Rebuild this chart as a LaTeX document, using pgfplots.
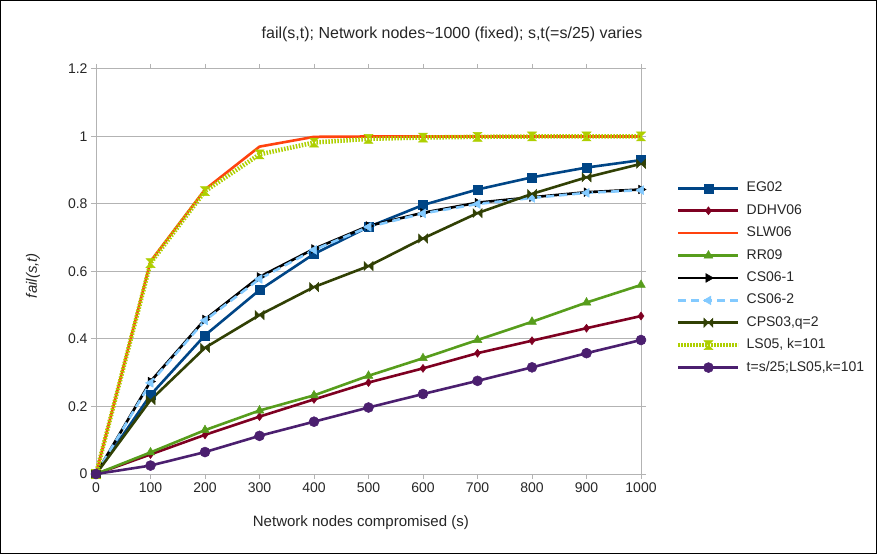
\documentclass[border=0pt]{standalone}
\usepackage{fontspec}
\setmainfont{Liberation Sans}
\usepackage{pgfplots}
\pgfplotsset{compat=1.18}
\definecolor{cEG}{HTML}{004586}
\definecolor{cDD}{HTML}{7E0021}
\definecolor{cSLW}{HTML}{FF420E}
\definecolor{cRR}{HTML}{579D1C}
\definecolor{cCSb}{HTML}{83CAFF}
\definecolor{cCPS}{HTML}{314004}
\definecolor{cLS}{HTML}{AECF00}
\definecolor{cT}{HTML}{4B1F6F}
\definecolor{gridc}{HTML}{B3B3B3}
\pgfdeclareplotmark{hourglass}{%
  \pgfpathmoveto{\pgfqpoint{-\pgfplotmarksize}{\pgfplotmarksize}}%
  \pgfpathlineto{\pgfqpoint{\pgfplotmarksize}{\pgfplotmarksize}}%
  \pgfpathlineto{\pgfqpoint{-\pgfplotmarksize}{-\pgfplotmarksize}}%
  \pgfpathlineto{\pgfqpoint{\pgfplotmarksize}{-\pgfplotmarksize}}%
  \pgfpathclose\pgfusepathqfillstroke}
\pgfdeclareplotmark{bowtie}{%
  \pgfpathmoveto{\pgfqpoint{-\pgfplotmarksize}{\pgfplotmarksize}}%
  \pgfpathlineto{\pgfqpoint{-\pgfplotmarksize}{-\pgfplotmarksize}}%
  \pgfpathlineto{\pgfqpoint{\pgfplotmarksize}{\pgfplotmarksize}}%
  \pgfpathlineto{\pgfqpoint{\pgfplotmarksize}{-\pgfplotmarksize}}%
  \pgfpathclose\pgfusepathqfillstroke}
\begin{document}
\begin{tikzpicture}
\useasboundingbox (0,0) rectangle (877bp,554bp);
\draw[line width=1bp,black] (0.5bp,0.5bp) rectangle (876.5bp,553.5bp);
\node[font=\fontsize{16bp}{18bp}\selectfont,text=black!85] at (452bp,520bp) {fail(s,t); Network nodes\textasciitilde1000 (fixed); s,t(=s/25) varies};
\begin{axis}[
  at={(96bp,80bp)}, anchor=south west,
  scale only axis, width=545bp, height=405bp,
  xmin=0, xmax=1000, ymin=0, ymax=1.2,
  xtick={0,100,...,1000}, ytick={0,0.2,...,1.2},
  clip=false,
  axis line style={gridc, line width=1bp},
  ymajorgrids, grid style={gridc, line width=1bp},
  tick align=outside, major tick length=5bp,
  tick style={gridc, line width=1bp},
  ticklabel style={font=\fontsize{14bp}{16bp}\selectfont, text=black!85},
  /pgf/number format/assume math mode=true,
  xticklabel style={/pgf/number format/1000 sep={}},
  yticklabel style={/pgf/number format/fixed,/pgf/number format/precision=1},
  scaled y ticks=false,
  xlabel={Network nodes compromised (s)},
  ylabel={\textit{fail(s,t)}},
  every axis x label/.style={at={(axis description cs:0.486,-0.121)}, anchor=center, font=\fontsize{15bp}{17bp}\selectfont, text=black!85},
  every axis y label/.style={at={(axis description cs:-0.1156,0.49)}, anchor=center, rotate=90, font=\fontsize{15bp}{17bp}\selectfont, text=black!85},
  legend style={at={(axis description cs:1,0.484)}, xshift=35bp, anchor=west, draw=none, fill=none, inner sep=0pt,
    font=\fontsize{14bp}{16bp}\selectfont, text=black!85,
    nodes={inner sep=0pt, text height=10bp, text depth=3bp, anchor=west},
    row sep=9.4bp,
    /tikz/every odd column/.append style={column sep=6bp}},
  legend cell align=left,
  legend image code/.code={\draw[mark repeat=2,mark phase=2,#1] plot coordinates {(0bp,0bp) (30bp,0bp) (60bp,0bp)};},
  every axis plot/.append style={line width=2.6bp},
]
\addplot[cEG, mark=square*, mark size=4.5bp, mark options={solid, line width=0.5bp}] coordinates {(0,0) (100,0.234) (200,0.411) (300,0.545) (400,0.652) (500,0.732) (600,0.797) (700,0.843) (800,0.879) (900,0.908) (1000,0.930)};
\addlegendentry{EG02}
\addplot[cDD, mark=diamond*, mark size=4bp, mark options={solid, line width=0.5bp}] coordinates {(0,0) (100,0.058) (200,0.116) (300,0.170) (400,0.221) (500,0.271) (600,0.313) (700,0.358) (800,0.395) (900,0.432) (1000,0.468)};
\addlegendentry{DDHV06}
\addplot[cSLW, mark=none] coordinates {(0,0) (100,0.630) (200,0.843) (300,0.970) (400,0.999) (500,1.0) (600,1.0) (700,1.0) (800,1.0) (900,1.0) (1000,1.0)};
\addlegendentry{SLW06}
\addplot[cRR, mark=triangle*, mark size=5bp, mark options={solid, line width=0.5bp}] coordinates {(0,0) (100,0.064) (200,0.130) (300,0.188) (400,0.233) (500,0.291) (600,0.343) (700,0.397) (800,0.451) (900,0.508) (1000,0.560)};
\addlegendentry{RR09}
\addplot[black, mark=triangle*, mark size=5bp, mark options={solid, rotate=-90, line width=0.5bp}] coordinates {(0,0) (100,0.274) (200,0.458) (300,0.584) (400,0.667) (500,0.735) (600,0.774) (700,0.804) (800,0.820) (900,0.835) (1000,0.843)};
\addlegendentry{CS06-1}
\addplot[cCSb, dash pattern=on 8bp off 5bp, mark=triangle*, mark size=5bp, mark options={solid, rotate=90, line width=0.5bp}] coordinates {(0,0) (100,0.270) (200,0.455) (300,0.578) (400,0.664) (500,0.732) (600,0.772) (700,0.800) (800,0.818) (900,0.833) (1000,0.841)};
\addlegendentry{CS06-2}
\addplot[cCPS, mark=bowtie, mark size=4.5bp, mark options={solid, line width=0.5bp}] coordinates {(0,0) (100,0.219) (200,0.374) (300,0.471) (400,0.554) (500,0.616) (600,0.698) (700,0.773) (800,0.830) (900,0.879) (1000,0.919)};
\addlegendentry{CPS03,q=2}
\addplot[cLS, line width=4.5bp, dash pattern=on 1.5bp off 1.5bp, mark=hourglass, mark size=4.5bp, mark options={solid, line width=0.5bp}] coordinates {(0,0) (100,0.625) (200,0.838) (300,0.947) (400,0.982) (500,0.993) (600,0.997) (700,0.999) (800,1.0) (900,1.0) (1000,1.0)};
\addlegendentry{LS05, k=101}
\addplot[cT, mark=*, mark size=5bp, mark options={solid, line width=0.5bp}] coordinates {(0,0) (100,0.025) (200,0.065) (300,0.113) (400,0.155) (500,0.197) (600,0.237) (700,0.276) (800,0.316) (900,0.358) (1000,0.397)};
\addlegendentry{t=s/25;LS05,k=101}
\end{axis}
\end{tikzpicture}
\end{document}
